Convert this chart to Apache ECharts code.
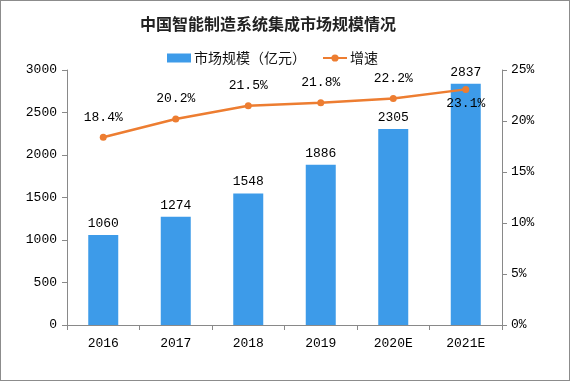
<!DOCTYPE html>
<html><head><meta charset="utf-8">
<script src="https://cdn.jsdelivr.net/npm/echarts@6/dist/echarts.min.js"></script>
<style>html,body{margin:0;padding:0;background:#fff}#c{width:568px;height:379px;border:1px solid #8c8c8c}</style>
</head><body><div id="c"></div>
<script>
const categories = ['2016','2017','2018','2019','2020E','2021E'];
const marketSize = [1060,1274,1548,1886,2305,2837];
const growth = [18.4,20.2,21.5,21.8,22.2,23.1];
const growthLabelPos = ['top','top','top','top','top','bottom'];

const chart = echarts.init(document.getElementById('c'));
const mono = '"Liberation Mono", "DejaVu Sans Mono", monospace';
chart.setOption({
  animation:false,
  title:{text:'中国智能制造系统集成市场规模情况',left:262,textAlign:'center',top:10,
    textStyle:{fontFamily:'"Noto Sans CJK SC"',fontSize:16,fontWeight:'bold',color:'#222'}},
  legend:{top:45,left:161,itemGap:16,itemWidth:24,itemHeight:9,
    textStyle:{fontFamily:'"Noto Sans CJK SC"',fontSize:14,color:'#111',padding:[0,0,0,-2]},
    data:[{name:'市场规模（亿元）',icon:'rect'},{name:'增速'}]},
  grid:{left:66,right:67,top:69,bottom:55},
  xAxis:{type:'category',data:categories,
    axisLine:{lineStyle:{color:'#898989'}},
    axisTick:{show:true,alignWithLabel:false,length:5,lineStyle:{color:'#898989'}},
    axisLabel:{color:'#000',fontFamily:mono,fontSize:13,margin:12}},
  yAxis:[{type:'value',min:0,max:3000,interval:500,
    axisLine:{show:true,lineStyle:{color:'#898989'}},
    axisTick:{show:true,length:5,lineStyle:{color:'#898989'}},
    splitLine:{show:false},
    axisLabel:{color:'#000',fontFamily:mono,fontSize:13,margin:10,formatter:v=>String(v)}},
   {type:'value',min:0,max:25,interval:5,position:'right',
    axisLine:{show:true,lineStyle:{color:'#898989'}},
    axisTick:{show:true,length:5,lineStyle:{color:'#898989'}},
    splitLine:{show:false},
    axisLabel:{color:'#000',fontFamily:mono,fontSize:13,margin:9,formatter:'{value}%'}}],
  series:[
    {name:'市场规模（亿元）',type:'bar',data:marketSize,barWidth:30,
      itemStyle:{color:'#3d9be9'},
      label:{show:true,position:'top',distance:5,color:'#000',fontFamily:mono,fontSize:13}},
    {name:'增速',type:'line',yAxisIndex:1,
      data:growth.map((v,i)=>({value:v,label:{position:growthLabelPos[i],distance:i===5?4:10}})),
      symbol:'circle',symbolSize:7,
      lineStyle:{color:'#ed7d31',width:2.5},itemStyle:{color:'#ed7d31'},
      label:{show:true,color:'#000',fontFamily:mono,fontSize:13,formatter:p=>p.value.toFixed(1)+'%'}}
  ]
});
</script></body></html>
